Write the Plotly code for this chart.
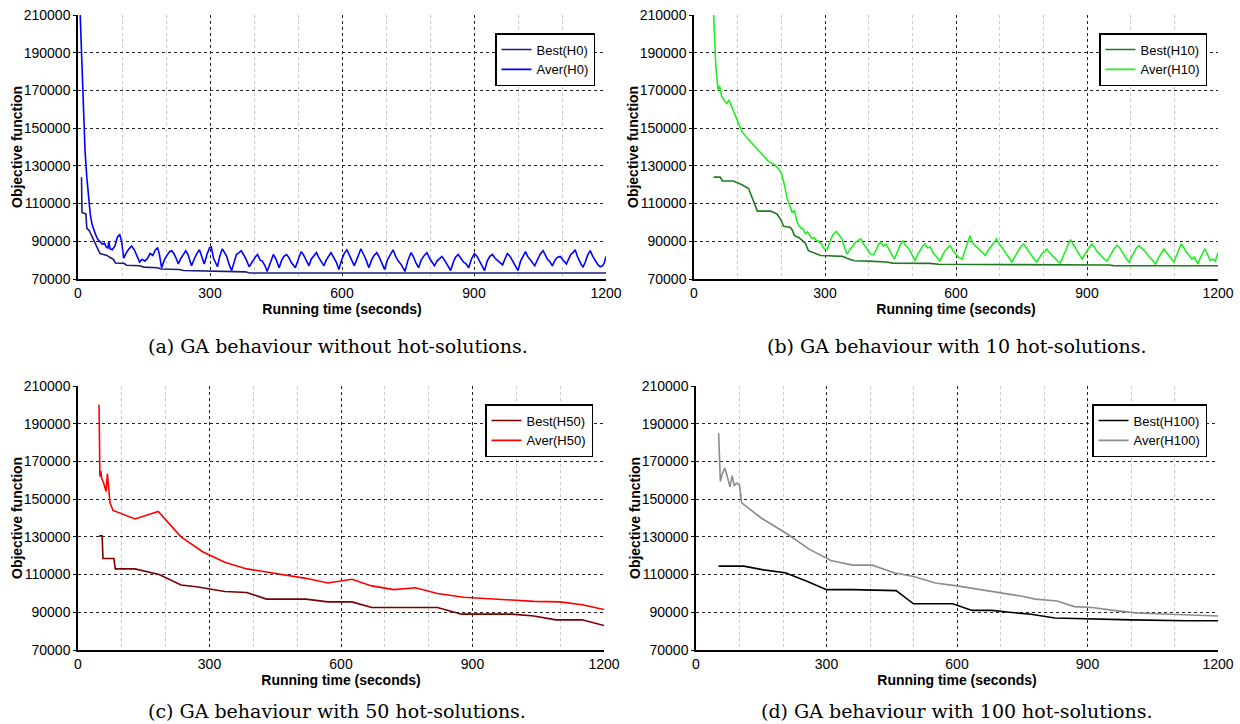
import plotly.graph_objects as go

# ---------------- data ----------------
# (a) no hot-solutions
a_best_x = [8, 9, 12, 18, 20, 26, 32, 38, 44, 50, 58, 66, 72, 80, 85, 105, 110, 140, 150, 180, 190, 230, 240, 300, 310, 380, 390, 1200]
a_best_y = [124000, 105500, 105000, 104500, 97000, 95500, 92500, 89500, 86500, 83500, 83000, 82500, 81500, 80500, 78500, 78300, 77300, 77000, 76300, 76000, 75300, 75000, 74500, 74300, 74000, 73800, 73200, 73200]

a_aver_x = [5, 7, 10, 13, 16, 20, 24, 28, 32, 36, 40, 45, 50, 55, 60, 64, 68, 70, 73, 78, 84, 90, 95, 99, 104,
            110, 116, 122, 128, 134, 140, 146, 152, 158, 164, 170, 176, 181, 185, 190, 196, 202, 208, 213, 218,
            223, 228, 234, 240, 245, 250, 254, 258, 264, 270, 276, 281, 287, 293, 299, 303, 308, 312, 317, 322,
            328, 333, 338, 343, 349, 355, 360, 366, 371, 376, 382, 389, 395, 400, 404, 408, 414, 419, 425, 430,
            435, 440, 444, 450, 457, 463, 468, 474, 479, 484, 489, 494, 500, 507, 512, 518, 525, 530, 536, 542,
            547, 553, 559, 564, 570, 575, 581, 587, 593, 599, 605, 611, 617, 623, 628, 633, 638, 643, 649, 655,
            661, 667, 673, 679, 685, 691, 697, 703, 710, 716, 722, 728, 735, 743, 750, 757, 763, 768, 774, 780,
            787, 793, 799, 805, 810, 816, 822, 827, 833, 840, 847, 853, 858, 864, 870, 876, 882, 888, 894, 901,
            907, 913, 918, 924, 930, 936, 942, 948, 955, 960, 965, 970, 976, 982, 988, 994, 1000, 1006, 1012, 1017,
            1022, 1028, 1033, 1038, 1044, 1050, 1057, 1062, 1067, 1073, 1078, 1084, 1090, 1096, 1101, 1106, 1110,
            1115, 1120, 1125, 1130, 1135, 1140, 1144, 1148, 1153, 1158, 1164, 1170, 1176, 1182, 1187, 1192, 1196, 1200]
a_aver_y = [210000, 195000, 172000, 152000, 138000, 124000, 112000, 104000, 99000, 96000, 93500, 91000, 90000, 88500, 89000, 87000, 86500, 90000, 86000, 85500, 87500, 92500, 93500, 90000, 81000,
            84000, 86000, 87500, 85500, 82000, 79000, 80500, 79500, 81000, 83500, 82500, 85500, 86500, 83000, 76000, 80000, 82500, 84500, 85000, 83500,
            81000, 78000, 81000, 83500, 85000, 83000, 80000, 77000, 80500, 83500, 85500, 82000, 78000, 83000, 86500, 87000, 81000, 79000, 76500, 82000,
            86000, 84000, 82000, 78000, 74500, 79000, 83000, 84000, 85000, 83000, 80500, 76500, 79000, 81000, 82000, 83000, 80000, 79500, 77000, 74000,
            77500, 81000, 83000, 80500, 76000, 80000, 82000, 83000, 81500, 79000, 77500, 76000, 80000, 84500, 83000, 80000, 77000, 80500, 82000, 84000,
            81500, 79500, 77000, 80000, 82500, 84000, 81500, 79000, 75000, 80000, 83500, 85500, 82500, 79500, 77000, 80000, 83000, 86000, 83000, 80000,
            76000, 80000, 82500, 84000, 81500, 78500, 75000, 80000, 83000, 85500, 82000, 79500, 77500, 74000, 80000, 84000, 81500, 78500, 76000, 80000,
            82500, 84000, 81000, 79000, 77000, 79500, 81000, 82000, 80000, 77500, 74500, 79000, 81500, 83000, 81000, 79000, 78000, 76000, 80500, 83500,
            82000, 79500, 77500, 74500, 79500, 82000, 83000, 81000, 79500, 78500, 77500, 80500, 83500, 82000, 79500, 77000, 74500, 79500, 82500, 84500,
            82000, 80000, 78500, 77000, 80000, 83000, 85000, 82500, 80500, 79000, 77000, 80000, 81500, 82000, 80500, 79500, 78000,
            80500, 83000, 84000, 85500, 82000, 79000, 77500, 76500, 79000, 82500, 85000, 82000, 79500, 77500, 76500, 77000, 78500, 82000]

# (b) 10 hot-solutions
b_best_x = [45, 60, 65, 90, 110, 125, 135, 145, 175, 190, 200, 205, 220, 225, 230, 240, 245, 255, 262, 268, 280, 290, 305, 340, 350, 367, 400, 440, 455, 540, 560, 700, 720, 950, 960, 1200]
b_best_y = [124000, 124000, 122000, 122000, 120000, 118000, 112000, 106000, 106000, 104500, 101000, 98000, 97500, 96000, 93000, 92000, 91000, 89000, 85000, 84500, 83500, 82500, 82300, 82000, 81000, 79700, 79500, 79000, 78400, 78300, 77800, 77700, 77500, 77400, 77100, 77000]

b_aver_x = [45, 47, 50, 52, 55, 58, 60, 63, 66, 70, 75, 80, 85, 90, 100, 110, 125, 140, 155, 170, 185, 195, 200, 207,
            213, 220, 225, 230, 235, 240, 245, 250, 255, 260, 265, 270, 275, 280, 285, 292, 298,
            305, 312, 318, 326, 332, 338, 344, 350, 357, 364, 370, 376, 382, 388, 394, 400, 406, 412, 418, 423,
            428, 434, 440, 446, 452, 459, 465, 471, 478, 484, 490, 496, 501, 506, 512, 518, 524, 529, 535, 541,
            547, 553, 558, 563, 569, 575, 581, 587, 593, 599, 606, 614, 620, 626, 632, 638, 645, 652, 659, 667,
            673, 680, 686, 693, 699, 706, 713, 720, 728, 734, 741, 748, 755, 761, 767, 774, 779, 785, 791, 797,
            803, 808, 814, 820, 827, 833, 839, 845, 851, 856, 862, 868, 874, 880, 889, 895, 901, 906, 911, 917,
            923, 929, 935, 940, 946, 952, 958, 963, 969, 975, 980, 985, 991, 996, 1002, 1008, 1013, 1019, 1025, 1031,
            1037, 1043, 1050, 1057, 1063, 1069, 1076, 1082, 1088, 1094, 1099, 1105, 1111, 1116, 1122, 1128, 1134,
            1140, 1146, 1154, 1160, 1165, 1170, 1176, 1182, 1188, 1194, 1200]
b_aver_y = [210000, 195000, 183000, 178000, 170000, 172500, 171000, 167000, 166000, 165000, 163000, 165000, 162000, 160000, 154000, 148000, 144000, 140000, 136000, 132500, 130500, 128000, 126000, 120000,
            113000, 108000, 105000, 106500, 101000, 98500, 97000, 96500, 94000, 95000, 93000, 91500, 92000, 90500, 90000, 88500, 86000,
            85500, 90000, 93500, 95200, 93000, 91500, 87500, 83200, 85500, 88000, 89500, 90500, 91300, 88500, 87000, 84500, 83000, 83000, 86500, 88500,
            89500, 87500, 88500, 86000, 83000, 80500, 84000, 87500, 90400, 88000, 86500, 84500, 82000, 79600, 83000, 85500, 87500, 88600, 86500, 87000,
            84000, 82500, 81000, 79600, 82500, 85000, 86500, 87700, 85000, 83500, 81500, 80500, 84500, 88000, 93000, 89000, 87500, 86000, 84500, 82500,
            85000, 87500, 89000, 91300, 88500, 86500, 84000, 81500, 79000, 81500, 84500, 87000, 88600, 86500, 84500, 82000, 80500, 79000, 81000, 83500,
            84500, 85900, 84000, 82500, 80500, 79500, 78500, 81500, 85000, 88000, 90900, 88500, 86000, 83500, 80500, 83000, 85500, 87000, 88600, 87000,
            84500, 83000, 81500, 80500, 79500, 82000, 84500, 86500, 88000, 86500, 84500, 82500, 80500, 79000, 81500, 84500, 86500, 87700, 86500, 85000,
            83500, 81500, 80000, 78000, 81000, 83500, 85900, 84000, 82000, 80500, 79000, 82500, 86000, 88600, 86500, 84000, 82500,
            80500, 81500, 78000, 81500, 84000, 86000, 83000, 80000, 80500, 79500, 84000]

# (c) 50 hot-solutions
c_best_x = [48, 55, 57, 82, 85, 130, 185, 235, 270, 300, 335, 385, 430, 520, 570, 625, 670, 820, 875, 990, 1040, 1090, 1150, 1200]
c_best_y = [130500, 130500, 118500, 118500, 113000, 113000, 110000, 104500, 103500, 102500, 101000, 100500, 97000, 97000, 95500, 95500, 92500, 92500, 89000, 89000, 88000, 86000, 86000, 83000]
c_aver_x = [48, 50, 52, 54, 58, 64, 67, 70, 73, 80, 130, 183, 235, 285, 335, 385, 440, 520, 570, 625, 670, 720, 770, 820, 880, 950, 1040, 1100, 1150, 1200]
c_aver_y = [200000, 162000, 165000, 161000, 159000, 154000, 163500, 157000, 148000, 144000, 139500, 143500, 130000, 122000, 116500, 113000, 111000, 108000, 105500, 107500, 104000, 102000, 103000, 100000, 98000, 97000, 95800, 95500, 94000, 91500]

# (d) 100 hot-solutions
d_best_x = [52, 110, 155, 205, 255, 300, 360, 460, 500, 590, 635, 680, 720, 770, 825, 900, 1000, 1130, 1200]
d_best_y = [114500, 114500, 112500, 111000, 106500, 102000, 102000, 101500, 94500, 94500, 91000, 91000, 90000, 89000, 87000, 86500, 86000, 85500, 85500]
d_aver_x = [52, 56, 60, 66, 72, 78, 83, 88, 93, 100, 105, 150, 210, 260, 310, 360, 405, 455, 500, 550, 600, 640, 690, 750, 780, 830, 870, 910, 960, 1010, 1060, 1150, 1200]
d_aver_y = [185000, 159500, 163000, 166500, 162000, 156500, 162500, 157000, 158500, 157500, 148000, 140000, 131500, 123500, 117500, 115000, 115000, 111000, 109000, 105500, 104000, 102500, 101000, 98500, 97000, 96000, 93000, 92500, 91000, 89700, 89200, 88500, 88000]

captions = ["(a) GA behaviour without hot-solutions.",
            "(b) GA behaviour with 10 hot-solutions.",
            "(c) GA behaviour with 50 hot-solutions.",
            "(d) GA behaviour with 100 hot-solutions."]
x_title = "Running time (seconds)"
y_title = "Objective function"

# ---------------- layout geometry ----------------
W, H = 1240, 724
px_x = [(78, 606), (694, 1218), (78, 604), (696, 1218)]
px_y = [(15, 279), (15, 279), (386, 650), (386, 650)]

panels = [
    [("Best(H0)", a_best_x, a_best_y, "#1c1c7c"), ("Aver(H0)", a_aver_x, a_aver_y, "#0000ff")],
    [("Best(H10)", b_best_x, b_best_y, "#1f7a1f"), ("Aver(H10)", b_aver_x, b_aver_y, "#22ee22")],
    [("Best(H50)", c_best_x, c_best_y, "#7a0000"), ("Aver(H50)", c_aver_x, c_aver_y, "#ff0000")],
    [("Best(H100)", d_best_x, d_best_y, "#000000"), ("Aver(H100)", d_aver_x, d_aver_y, "#8c8c8c")],
]

fig = go.Figure()
font_sans = "Liberation Sans, Arial, sans-serif"

for i, series in enumerate(panels):
    k = "" if i == 0 else str(i + 1)
    leg = "legend" if i == 0 else f"legend{i + 1}"
    for name, xs, ys, col in series:
        fig.add_trace(go.Scatter(x=xs, y=ys, mode="lines", name=name,
                                 line=dict(color=col, width=1.6),
                                 xaxis="x" + k, yaxis="y" + k, legend=leg))
    x0, x1 = px_x[i]
    y0, y1 = px_y[i]
    xd = [x0 / W, x1 / W]
    yd = [1 - y1 / H, 1 - y0 / H]
    fig.layout["xaxis" + k] = dict(
        domain=xd, anchor="y" + k, range=[0, 1200], tick0=0, dtick=300,
        automargin=False,
        showgrid=True, gridcolor="#222222", griddash="dot", gridwidth=1,
        minor=dict(dtick=100, showgrid=True, gridcolor="#c8c8c8", griddash="dot", gridwidth=1),
        showline=True, linecolor="black", linewidth=2, ticks="",
        zeroline=False,
        tickfont=dict(family=font_sans, size=14, color="black"),
        title=dict(text="<b>" + x_title + "</b>", standoff=0,
                   font=dict(family=font_sans, size=14, color="black")))
    fig.layout["yaxis" + k] = dict(
        domain=yd, anchor="x" + k, range=[70000, 210000], tick0=70000, dtick=20000,
        automargin=False,
        showgrid=True, gridcolor="#222222", griddash="dot", gridwidth=1,
        showline=True, linecolor="black", linewidth=1.5, ticks="outside", ticklen=3,
        tickcolor="black", zeroline=False, tickformat="d",
        tickfont=dict(family=font_sans, size=14, color="black"))
    fig.add_annotation(text="<b>" + y_title + "</b>", xref="paper", yref="paper",
                       x=(x0 - 61) / W, y=(yd[0] + yd[1]) / 2, xanchor="center", yanchor="middle",
                       textangle=-90, showarrow=False,
                       font=dict(family=font_sans, size=14, color="black"))
    fig.layout[leg] = dict(
        x=(x1 - 11) / W, y=yd[1] - 18 / H, xanchor="right", yanchor="top",
        bordercolor="black", borderwidth=1.5, bgcolor="white",
        font=dict(family=font_sans, size=13, color="black"),
        itemwidth=30, tracegroupgap=0)
    fig.add_annotation(text=captions[i], xref="paper", yref="paper",
                       x=(x0 + x1) / 2 / W + (-0.003 if i % 2 == 0 else 0.0),
                       y=1 - ((346 if i < 2 else 711) / H),
                       xanchor="center", yanchor="middle", showarrow=False,
                       font=dict(family="DejaVu Serif", size=19, color="black"))

fig.update_layout(width=W, height=H, margin=dict(l=0, r=0, t=0, b=0),
                  paper_bgcolor="white", plot_bgcolor="white", showlegend=True)

fig.write_html("out.html")
